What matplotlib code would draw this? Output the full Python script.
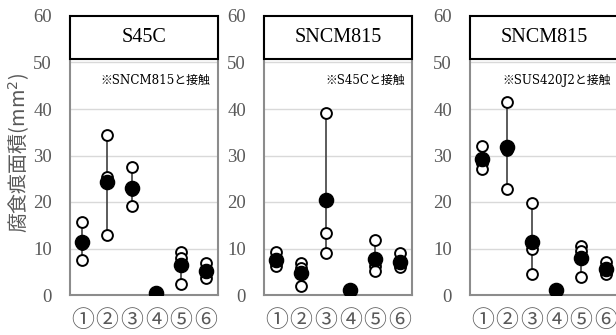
import matplotlib
matplotlib.use("Agg")
import matplotlib.pyplot as plt
from matplotlib.patches import Rectangle

categories = ['①', '②', '③', '④', '⑤', '⑥']
panel_titles = ['S45C', 'SNCM815', 'SNCM815']
panel_notes = ['※SNCM815と接触', '※S45Cと接触', '※SUS420J2と接触']
y_label = '腐食痕面積(mm$^2$)'
y_ticks = [0, 10, 20, 30, 40, 50, 60]

# individual measurements (3 per category)
p1_values = [[15.8, 11.0, 7.5], [34.4, 25.4, 12.9], [27.6, 22.6, 19.1],
             [0.4, 0.4, 0.4], [9.3, 8.0, 2.3], [6.8, 5.0, 3.7]]
p2_values = [[9.3, 7.0, 6.2], [6.8, 5.8, 1.9], [39.1, 13.3, 9.1],
             [1.0, 1.0, 1.0], [11.8, 6.3, 5.2], [9.0, 6.5, 6.0]]
p3_values = [[32.0, 28.4, 27.2], [41.6, 31.2, 22.9], [19.8, 10.0, 4.5],
             [1.0, 1.0, 1.0], [10.5, 9.4, 3.8], [7.2, 5.0, 4.5]]
# averages
p1_mean = [11.3, 24.2, 23.1, 0.4, 6.5, 5.2]
p2_mean = [7.5, 4.8, 20.4, 1.0, 7.7, 7.2]
p3_mean = [29.2, 31.9, 11.5, 1.0, 7.9, 5.6]

all_values = [p1_values, p2_values, p3_values]
all_means = [p1_mean, p2_mean, p3_mean]

serif = ['Liberation Serif', 'Noto Sans CJK JP', 'DejaVu Sans']
wide_serif = ['DejaVu Serif', 'Noto Sans CJK JP', 'DejaVu Sans']
cjk = ['Noto Sans CJK JP', 'DejaVu Sans']
grey_txt = '#595959'

fig = plt.figure(figsize=(6.16, 3.35), dpi=100)
W, H = 616, 335
lefts = [70, 264, 470]
pw = 148
y0, y1 = 295, 16

for i in range(3):
    ax = fig.add_axes([lefts[i] / W, (H - y0) / H, pw / W, (y0 - y1) / H])
    x = list(range(1, len(categories) + 1))
    vals = all_values[i]
    means = all_means[i]
    for xi, v in zip(x, vals):
        if max(v) > min(v):
            ax.plot([xi, xi], [min(v), max(v)], color='#404040', lw=1.2, zorder=2)
    for k in range(3):
        ax.plot(x, [v[k] for v in vals], linestyle='none', marker='o', ms=7.8,
                mfc='white', mec='black', mew=1.4, zorder=3)
    ax.plot(x, means, linestyle='none', marker='o', ms=10.2, mfc='black',
            mec='black', zorder=4)
    ax.set_xlim(0.5, 6.5)
    ax.set_ylim(0, 60)
    ax.set_yticks(y_ticks)
    ax.set_xticks(x)
    ax.set_xticklabels(categories, fontfamily=cjk, fontsize=16.5, color=grey_txt)
    ax.set_yticklabels([str(t) for t in y_ticks], fontfamily=serif, fontsize=13.5,
                       color=grey_txt)
    ax.tick_params(axis='both', length=0)
    ax.tick_params(axis='y', pad=13)
    ax.tick_params(axis='x', pad=10)
    ax.grid(axis='y', color='#d9d9d9', lw=1.0, zorder=0)
    ax.set_axisbelow(True)
    for s in ['left', 'bottom', 'right']:
        ax.spines[s].set_color('#8c8c8c')
        ax.spines[s].set_linewidth(1.5)
    ax.spines['top'].set_visible(False)
    box_bottom = (y0 - 59) / (y0 - y1)
    ax.add_patch(Rectangle((0, box_bottom), 1, 1 - box_bottom, transform=ax.transAxes,
                           facecolor='white', edgecolor='black', lw=1.5, zorder=5,
                           clip_on=False))
    ax.text(0.5, (1 + box_bottom) / 2, panel_titles[i], transform=ax.transAxes,
            ha='center', va='center', fontsize=14.5, fontfamily=serif, zorder=6)
    ax.text(0.95, 0.768, panel_notes[i], transform=ax.transAxes, ha='right',
            va='center', fontsize=8.6, fontfamily=wide_serif, zorder=6)

fig.text(19 / W, 1 - 153 / H, y_label, rotation=90, ha='center', va='center',
         fontsize=14.4, color=grey_txt, fontfamily=cjk)

fig.savefig('out.png', dpi=100)
